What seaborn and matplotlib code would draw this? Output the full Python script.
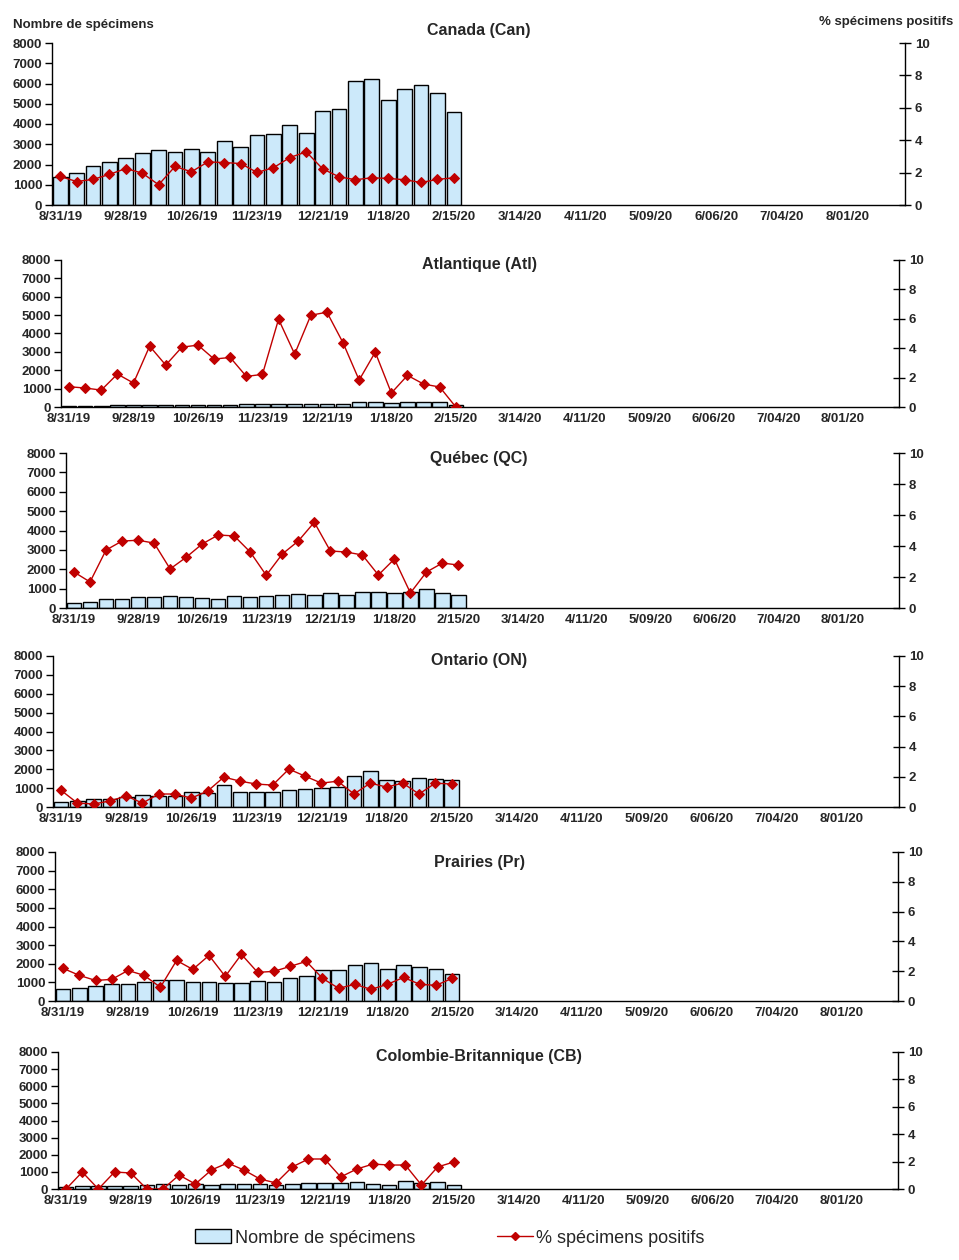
import numpy as np
import pandas as pd
import matplotlib
matplotlib.use("Agg")
import matplotlib.pyplot as plt
from matplotlib.patches import Patch
from matplotlib.lines import Line2D
import seaborn as sns

# ---------------- data ----------------
n_weeks = 52
start_week = "2019-08-31"
tick_labels = ["8/31/19", "9/28/19", "10/26/19", "11/23/19", "12/21/19", "1/18/20",
               "2/15/20", "3/14/20", "4/11/20", "5/09/20", "6/06/20", "7/04/20", "8/01/20"]

regions = ["Canada (Can)", "Atlantique (Atl)", "Québec (QC)", "Ontario (ON)",
           "Prairies (Pr)", "Colombie-Britannique (CB)"]

can_count = [1360, 1600, 1950, 2100, 2340, 2590, 2740, 2640, 2790, 2640, 3180, 2840, 3475,
             3520, 3970, 3570, 4660, 4750, 6130, 6230, 5200, 5740, 5930, 5540, 4610]
can_pct = [1.76, 1.45, 1.58, 1.89, 2.25, 1.97, 1.25, 2.38, 2.05, 2.66, 2.62, 2.56, 2.01,
           2.30, 2.93, 3.28, 2.23, 1.74, 1.56, 1.68, 1.64, 1.56, 1.39, 1.58, 1.68]

atl_count = [40, 40, 80, 90, 90, 130, 130, 130, 130, 130, 130, 180, 140,
             140, 190, 190, 190, 150, 260, 260, 200, 260, 260, 260, 90]
atl_pct = [1.38, 1.29, 1.15, 2.24, 1.63, 4.14, 2.85, 4.07, 4.21, 3.26, 3.37, 2.08, 2.22,
           5.97, 3.60, 6.24, 6.45, 4.37, 1.83, 3.73, 0.95, 2.15, 1.56, 1.36, 0.0]

qc_count = [260, 310, 465, 465, 570, 570, 620, 570, 520, 465, 620, 570, 620,
            670, 720, 670, 775, 670, 825, 825, 775, 825, 980, 775, 670]
qc_pct = [2.32, 1.68, 3.74, 4.32, 4.37, 4.19, 2.52, 3.27, 4.13, 4.71, 4.65, 3.61, 2.11,
          3.48, 4.32, 5.53, 3.68, 3.61, 3.42, 2.13, 3.16, 0.97, 2.32, 2.90, 2.77]

on_count = [265, 315, 420, 420, 530, 630, 580, 580, 790, 740, 1160, 790, 790,
            790, 900, 950, 1000, 1055, 1630, 1900, 1420, 1370, 1530, 1480, 1420]
on_pct = [1.10, 0.26, 0.20, 0.40, 0.73, 0.26, 0.86, 0.86, 0.59, 1.05, 1.98, 1.71, 1.52,
          1.45, 2.51, 2.04, 1.58, 1.71, 0.86, 1.58, 1.32, 1.58, 0.86, 1.58, 1.52]

pr_count = [625, 680, 785, 890, 890, 1000, 1110, 1110, 1000, 1000, 945, 945, 1050,
            1000, 1215, 1320, 1640, 1640, 1910, 2020, 1700, 1910, 1800, 1700, 1430]
pr_pct = [2.19, 1.72, 1.38, 1.45, 2.05, 1.72, 0.92, 2.72, 2.12, 3.06, 1.65, 3.13, 1.92,
          1.99, 2.32, 2.66, 1.52, 0.85, 1.12, 0.78, 1.12, 1.58, 1.12, 1.05, 1.52]

cb_count = [115, 175, 175, 175, 175, 235, 290, 235, 290, 235, 290, 290, 290,
            235, 290, 350, 350, 350, 410, 290, 235, 470, 350, 410, 235]
cb_pct = [0.0, 1.24, 0.0, 1.24, 1.17, 0.0, 0.0, 1.02, 0.36, 1.39, 1.90, 1.39, 0.73,
          0.44, 1.61, 2.19, 2.19, 0.88, 1.46, 1.82, 1.75, 1.75, 0.29, 1.61, 1.97]

counts = [can_count, atl_count, qc_count, on_count, pr_count, cb_count]
pcts = [can_pct, atl_pct, qc_pct, on_pct, pr_pct, cb_pct]

left_ticks = list(range(0, 8001, 1000))
right_ticks = list(range(0, 11, 2))

# ---------------- style ----------------
sns.set_style("white")
plt.rcParams["font.family"] = ["Liberation Sans", "DejaVu Sans"]
plt.rcParams["font.weight"] = "bold"

BAR_COLOR = "#CCE9FA"
LINE_COLOR = "#C00000"

W, H = 959, 1260
fig = plt.figure(figsize=(W / 100, H / 100), dpi=100)

# axes boxes in pixels: left, right, top, bottom
boxes = [(52, 905, 43, 205), (61, 899, 260, 407), (66, 899, 453, 608),
         (53, 899, 656, 807), (55, 898, 852, 1001), (58, 898, 1052, 1189)]
title_y = [31, 264, 458, 660, 862, 1057]

week_dates = pd.date_range(start_week, periods=n_weeks, freq="7D")
week_names = [f"{d.month}/{d.day:02d}/{d.strftime('%y')}" for d in week_dates]
label_pos = [week_names.index(t) for t in tick_labels]

for i, (reg, cnt, pct) in enumerate(zip(regions, counts, pcts)):
    l, r, t, b = boxes[i]
    ax = fig.add_axes([l / W, 1 - b / H, (r - l) / W, (b - t) / H])
    df = pd.DataFrame({"week": week_names[:len(cnt)], "count": cnt,
                       "pos": np.arange(len(cnt)), "pct": pct})
    sns.barplot(data=df, x="week", y="count", order=week_names, color=BAR_COLOR,
                edgecolor="black", linewidth=1.0, width=0.9, saturation=1, ax=ax)
    ax.set_xlim(-0.5, n_weeks - 0.5)
    ax.set_ylim(0, 8000)
    ax.set_yticks(left_ticks)
    ax.set_yticklabels([str(v) for v in left_ticks], fontsize=9.5, fontweight="bold")
    ax.set_xticks(label_pos)
    ax.set_xticklabels(tick_labels, fontsize=9.5, fontweight="bold")
    ax.set_xticks(np.arange(-0.5, n_weeks, 1.0), minor=True)
    ax.tick_params(axis="x", which="major", length=0, pad=4)
    ax.tick_params(axis="x", which="minor", direction="inout", length=8, width=1, color="black")
    ax.tick_params(axis="y", direction="out", length=5, width=1, color="black", pad=2)
    ax.set_xlabel("")
    ax.set_ylabel("")
    for s in ["top", "right"]:
        ax.spines[s].set_visible(False)
    for s in ["left", "bottom"]:
        ax.spines[s].set_color("black")
        ax.spines[s].set_linewidth(1)

    ax2 = ax.twinx()
    sns.lineplot(data=df, x="pos", y="pct", color=LINE_COLOR, marker="D", markersize=5,
                 markeredgecolor=LINE_COLOR, linewidth=1.0, ax=ax2)
    ax2.set_ylim(0, 10)
    ax2.set_yticks(right_ticks)
    ax2.set_yticklabels([str(v) for v in right_ticks], fontsize=9.5, fontweight="bold")
    ax2.tick_params(axis="y", direction="inout", length=8, width=1, color="black", pad=3)
    ax2.set_xlim(-0.5, n_weeks - 0.5)
    ax2.set_xlabel("")
    ax2.set_ylabel("")
    for s in ["top", "left", "bottom"]:
        ax2.spines[s].set_visible(False)
    ax2.spines["right"].set_color("black")
    ax2.spines["right"].set_linewidth(1)

    fig.text(479 / W, 1 - title_y[i] / H, reg, ha="center", va="center",
             fontsize=11.5, fontweight="bold")

fig.text(13 / W, 1 - 25 / H, "Nombre de spécimens", ha="left", va="center",
         fontsize=9.5, fontweight="bold")
fig.text(953 / W, 1 - 22 / H, "% spécimens positifs", ha="right", va="center",
         fontsize=9.5, fontweight="bold")

handles = [Patch(facecolor=BAR_COLOR, edgecolor="black", linewidth=1.0),
           Line2D([0], [0], color=LINE_COLOR, marker="D", markersize=4, linewidth=1.0)]
fig.legend(handles, ["Nombre de spécimens", "% spécimens positifs"],
           loc="center", bbox_to_anchor=(450 / W, 1 - 1238 / H), ncol=2, frameon=False,
           prop={"size": 13, "weight": "normal"}, columnspacing=4.5,
           handlelength=2.0, handletextpad=0.2, handleheight=0.8)

fig.savefig("out.png", dpi=100)
